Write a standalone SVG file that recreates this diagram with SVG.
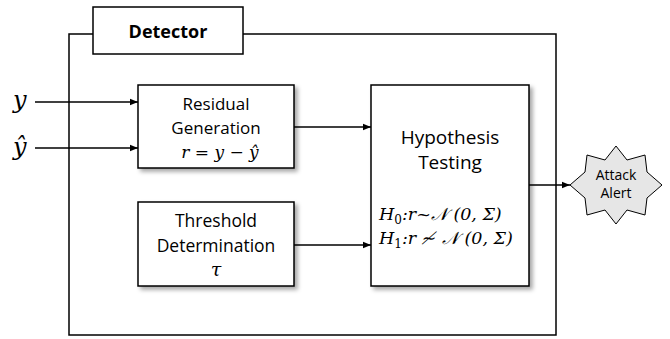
<svg xmlns="http://www.w3.org/2000/svg" width="670" height="339" viewBox="0 0 670 339">
  <defs>
    <filter id="shadow" x="-10%" y="-10%" width="130%" height="130%">
      <feDropShadow dx="3" dy="3" stdDeviation="2" flood-color="#000" flood-opacity="0.35"/>
    </filter>
    <marker id="arrow" viewBox="0 0 10 10" refX="10" refY="5" markerWidth="10" markerHeight="8" markerUnits="userSpaceOnUse" orient="auto">
      <path d="M0,1 L10,5 L0,9 Z" fill="#000"/>
    </marker>
  </defs>
  <style>
    .frame { fill: none; stroke: #000; stroke-width: 1.5; }
    .box { fill: #fff; stroke: #000; stroke-width: 1.5; }
    .label { font-family: "Open Sans", "Liberation Sans", sans-serif; fill: #000; text-anchor: middle; }
    .math { font-family: "DejaVu Serif", "Liberation Serif", serif; font-style: italic; fill: #000; }
    .wire { fill: none; stroke: #000; stroke-width: 1.5; marker-end: url(#arrow); }
  </style>

  <rect width="670" height="339" fill="#fff"/>

  <!-- detector enclosure -->
  <g id="detector">
    <rect class="frame" x="69" y="34" width="487" height="301"/>
    <rect class="box" x="93" y="7" width="150" height="47"/>
    <text class="label" x="168" y="38" font-size="18" font-weight="bold">Detector</text>
  </g>

  <!-- inputs -->
  <g id="input-y">
    <text class="math" x="13" y="108" font-size="24">y</text>
  </g>
  <g id="input-yhat">
    <text class="math" x="13" y="155" font-size="24">ŷ</text>
  </g>

  <g id="residual">
    <rect class="box" x="138" y="85" width="156" height="83" filter="url(#shadow)"/>
    <text class="label" x="216" y="110" font-size="17">Residual</text>
    <text class="label" x="216" y="134" font-size="17">Generation</text>
    <text class="math" x="220" y="158" font-size="17" text-anchor="middle">r = y − ŷ</text>
  </g>

  <g id="threshold">
    <rect class="box" x="138" y="202" width="156" height="84" filter="url(#shadow)"/>
    <text class="label" x="216" y="227" font-size="17.5">Threshold</text>
    <text class="label" x="216" y="252" font-size="17.5">Determination</text>
    <text class="math" x="216" y="276" font-size="19" text-anchor="middle">τ</text>
  </g>

  <g id="hypothesis">
    <rect class="box" x="371" y="85" width="158" height="201" filter="url(#shadow)"/>
    <text class="label" x="450" y="144" font-size="19">Hypothesis</text>
    <text class="label" x="450" y="169" font-size="19">Testing</text>
    <text class="math" x="379" y="220" font-size="17.5">H<tspan font-size="12" dy="4" font-style="normal">0</tspan><tspan dy="-4">:r~𝒩 (0, Σ)</tspan></text>
    <text class="math" x="379" y="244" font-size="17.5">H<tspan font-size="12" dy="4" font-style="normal">1</tspan><tspan dy="-4">:r ≁ 𝒩 (0, Σ)</tspan></text>
  </g>

  <g id="alert">
    <polygon points="616,146 627,160 645,155 647,172 662,185 647,198 645,215 627,210 616,224 605,210 587,215 585,198 570,185 585,172 587,155 605,160" fill="#e6e6e6" stroke="#000" stroke-width="1"/>
    <text class="label" x="616" y="180" font-size="14">Attack</text>
    <text class="label" x="616" y="198" font-size="14">Alert</text>
  </g>

  <!-- connectors -->
  <g id="connectors">
    <line class="wire" x1="35" y1="102" x2="138" y2="102"/>
    <line class="wire" x1="35" y1="148" x2="138" y2="148"/>
    <line class="wire" x1="294" y1="127" x2="371" y2="127"/>
    <line class="wire" x1="294" y1="245" x2="371" y2="245"/>
    <line class="wire" x1="529" y1="185" x2="570" y2="185"/>
  </g>
</svg>
